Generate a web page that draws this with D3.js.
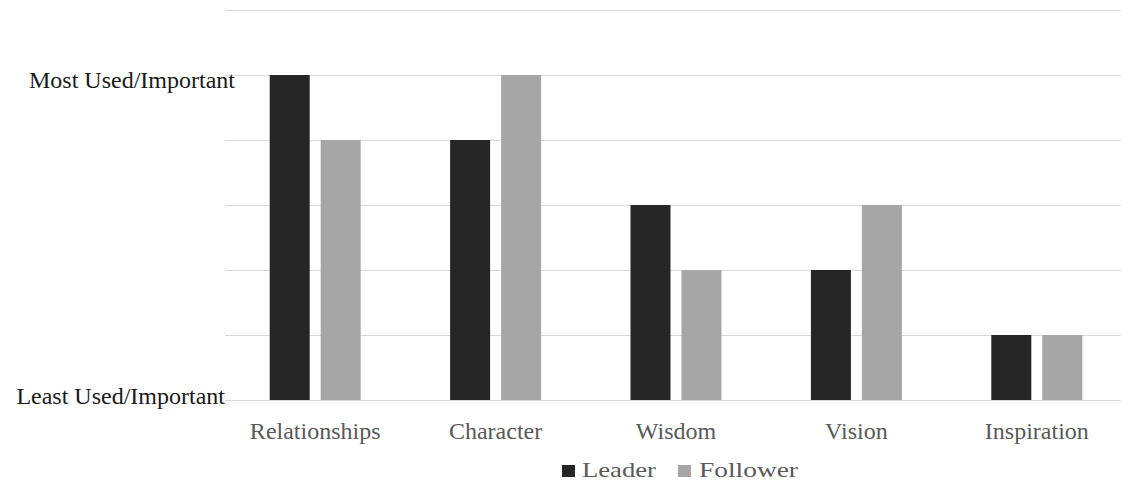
<!DOCTYPE html>
<html>
<head>
<meta charset="utf-8">
<script src="https://cdn.jsdelivr.net/npm/d3@7"></script>
<style>
  html, body { margin: 0; padding: 0; background: #fff; }
  svg, svg text { font-family: "Liberation Serif", "Times New Roman", serif !important; }
</style>
</head>
<body>
<svg id="chart" width="1121" height="483"></svg>
<script>
const categories = ["Relationships", "Character", "Wisdom", "Vision", "Inspiration"];
const seriesNames = ["Leader", "Follower"];
const leaderValues = [5, 4, 3, 2, 1];
const followerValues = [4, 5, 2, 3, 1];
const yTickValues = [0, 5];
const yTickLabels = ["Least Used/Important", "Most Used/Important"];
const gridValues = [0, 1, 2, 3, 4, 5, 6];

const colors = { Leader: "#262626", Follower: "#a6a6a6" };
const FONT = "Liberation Serif, Times New Roman, serif";

const svg = d3.select("#chart");
const plotLeft = 225, plotRight = 1127, plotTop = 10, plotBottom = 400;

const x0 = d3.scaleBand().domain(categories).range([plotLeft, plotRight]).padding(0);
const x1 = d3.scaleBand().domain(seriesNames).range([0, x0.bandwidth()])
  .paddingInner(0.2157).paddingOuter(0.877);
const y = d3.scaleLinear().domain([0, 6]).range([plotBottom, plotTop]);

// gridlines
svg.append("g")
  .selectAll("line")
  .data(gridValues)
  .join("line")
  .attr("x1", plotLeft).attr("x2", plotRight)
  .attr("y1", d => y(d) + 0.5).attr("y2", d => y(d) + 0.5)
  .attr("stroke", "#d9d9d9").attr("stroke-width", 1);

// bars
const rows = categories.map((c, i) => ({ cat: c, vals: [
  { key: "Leader", value: leaderValues[i] },
  { key: "Follower", value: followerValues[i] }
]}));

svg.append("g")
  .selectAll("g")
  .data(rows)
  .join("g")
  .attr("transform", d => `translate(${x0(d.cat)},0)`)
  .selectAll("rect")
  .data(d => d.vals)
  .join("rect")
  .attr("x", d => x1(d.key))
  .attr("width", x1.bandwidth())
  .attr("y", d => y(d.value))
  .attr("height", d => y(0) - y(d.value))
  .attr("fill", d => colors[d.key]);

// x axis labels
const xAxis = d3.axisBottom(x0).tickSize(0).tickPadding(0);
const gx = svg.append("g").attr("transform", `translate(0,${plotBottom})`).call(xAxis)
  .attr("font-family", FONT).attr("font-size", 24);
gx.select(".domain").remove();
gx.selectAll("text")
  .attr("y", 39).attr("dy", null)
  .attr("font-family", FONT)
  .attr("font-size", 24)
  .attr("fill", "#595959");

// y axis labels
const yAxis = d3.axisLeft(y).tickValues(yTickValues)
  .tickFormat((d, i) => yTickLabels[i]).tickSize(0);
const gy = svg.append("g").attr("transform", `translate(${plotLeft},0)`).call(yAxis)
  .attr("font-family", FONT).attr("font-size", 24);
gy.select(".domain").remove();
gy.selectAll("text")
  .attr("x", d => d === 0 ? 0 : 10)
  .attr("dy", null)
  .attr("y", d => d === 0 ? 3 : 12)
  .attr("text-anchor", "end")
  .attr("font-family", FONT)
  .attr("font-size", 24)
  .attr("fill", "#1a1a1a");

// legend
const legendItems = [
  { key: "Leader", sx: 562, tx: 582, tw: 74 },
  { key: "Follower", sx: 678, tx: 699, tw: 99 }
];
const lg = svg.append("g").attr("font-family", FONT);
legendItems.forEach(it => {
  lg.append("rect").attr("x", it.sx).attr("y", 465).attr("width", 13).attr("height", 12)
    .attr("fill", colors[it.key]);
  lg.append("text").attr("x", it.tx).attr("y", 477)
    .attr("textLength", it.tw).attr("lengthAdjust", "spacingAndGlyphs")
    .attr("font-family", FONT)
    .attr("font-size", 21).attr("fill", "#595959")
    .text(it.key);
});
</script>
</body>
</html>
